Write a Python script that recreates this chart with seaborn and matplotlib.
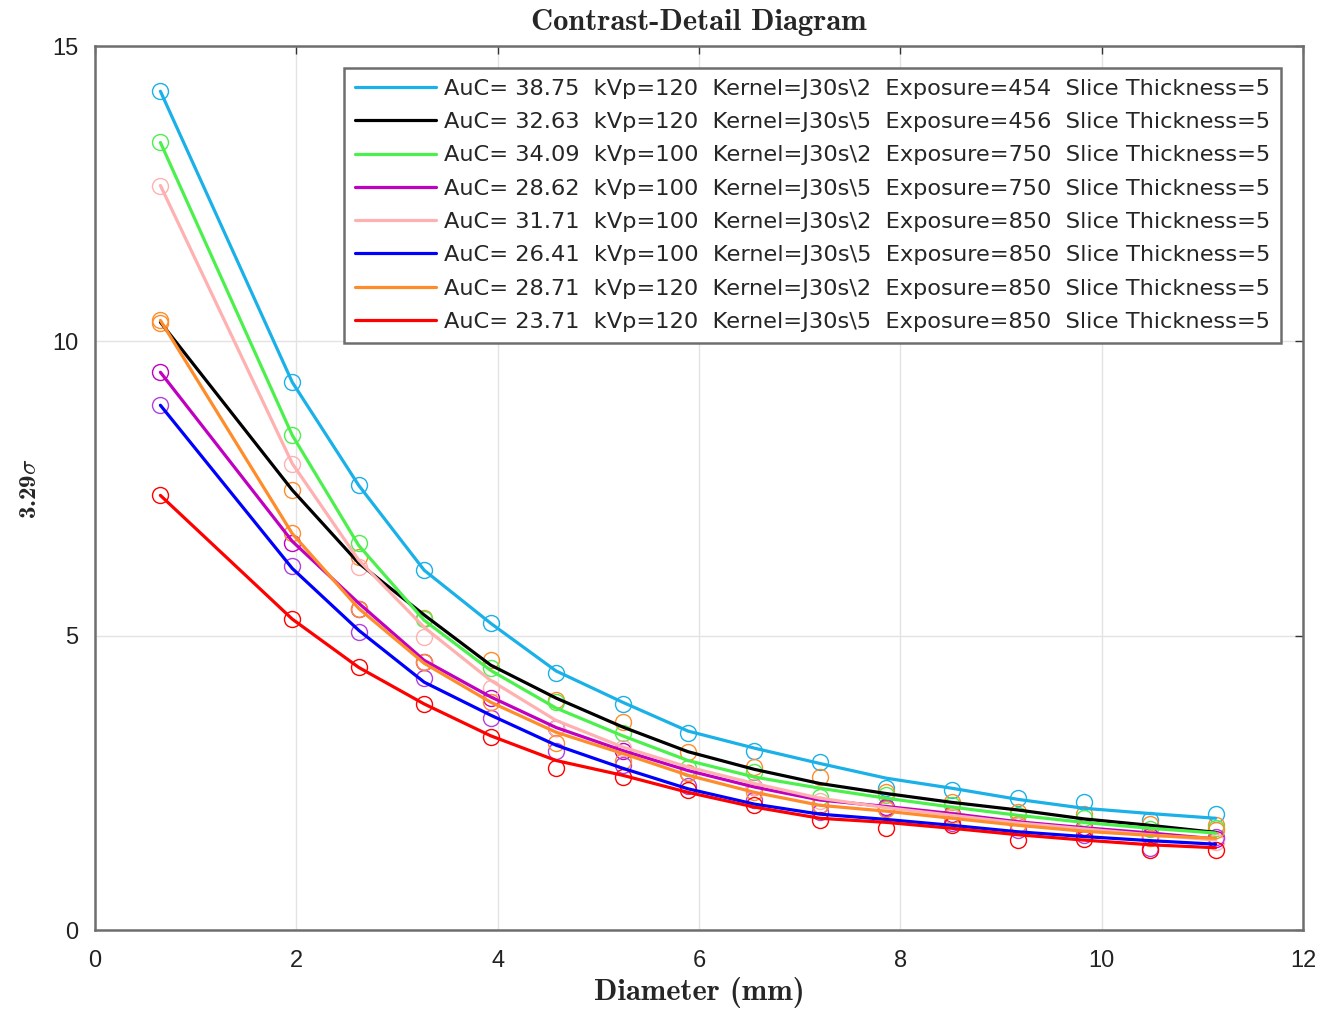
import numpy as np
import pandas as pd
import seaborn as sns
import matplotlib
matplotlib.use("Agg")
import matplotlib.pyplot as plt

# diameters (mm) of the contrast-detail inserts
diameter = [0.65, 1.96, 2.62, 3.27, 3.93, 4.58, 5.24, 5.89, 6.55, 7.20, 7.86, 8.51, 9.17, 9.82, 10.48, 11.13]

labels = [
    r"AuC= 38.75  kVp=120  Kernel=J30s\2  Exposure=454  Slice Thickness=5",
    r"AuC= 32.63  kVp=120  Kernel=J30s\5  Exposure=456  Slice Thickness=5",
    r"AuC= 34.09  kVp=100  Kernel=J30s\2  Exposure=750  Slice Thickness=5",
    r"AuC= 28.62  kVp=100  Kernel=J30s\5  Exposure=750  Slice Thickness=5",
    r"AuC= 31.71  kVp=100  Kernel=J30s\2  Exposure=850  Slice Thickness=5",
    r"AuC= 26.41  kVp=100  Kernel=J30s\5  Exposure=850  Slice Thickness=5",
    r"AuC= 28.71  kVp=120  Kernel=J30s\2  Exposure=850  Slice Thickness=5",
    r"AuC= 23.71  kVp=120  Kernel=J30s\5  Exposure=850  Slice Thickness=5",
]
line_colors = ["#1ab0e8", "#000000", "#4cf04c", "#c000c0", "#ffb0b0", "#0000ff", "#ff8c2a", "#ff0000"]
marker_colors = ["#1ab0e8", "#ff8c2a", "#4cf04c", "#c000c0", "#ffb0b0", "#b040e0", "#ff8c2a", "#ff0000"]

# smoothed curves (lines)
fit_cyan = [14.24, 9.30, 7.55, 6.11, 5.21, 4.40, 3.87, 3.38, 3.09, 2.83, 2.58, 2.41, 2.22, 2.07, 1.98, 1.90]
fit_black = [10.32, 7.47, 6.23, 5.35, 4.50, 3.94, 3.45, 3.03, 2.73, 2.49, 2.32, 2.17, 2.04, 1.89, 1.78, 1.66]
fit_green = [13.37, 8.40, 6.53, 5.26, 4.41, 3.77, 3.30, 2.88, 2.60, 2.41, 2.24, 2.09, 1.95, 1.83, 1.73, 1.65]
fit_magenta = [9.47, 6.60, 5.55, 4.58, 3.96, 3.44, 3.05, 2.71, 2.43, 2.21, 2.10, 1.98, 1.84, 1.74, 1.65, 1.55]
fit_pink = [12.64, 7.92, 6.28, 5.14, 4.24, 3.56, 3.11, 2.77, 2.49, 2.24, 2.08, 1.95, 1.82, 1.72, 1.62, 1.53]
fit_blue = [8.91, 6.14, 5.09, 4.21, 3.65, 3.14, 2.75, 2.40, 2.14, 1.97, 1.88, 1.78, 1.67, 1.59, 1.52, 1.46]
fit_orange = [10.35, 6.73, 5.46, 4.53, 3.87, 3.36, 3.00, 2.63, 2.34, 2.12, 2.02, 1.90, 1.78, 1.68, 1.61, 1.56]
fit_red = [7.38, 5.28, 4.46, 3.84, 3.30, 2.88, 2.63, 2.34, 2.09, 1.90, 1.83, 1.73, 1.62, 1.53, 1.45, 1.40]

# measured points (circles)
pts_cyan = [14.24, 9.30, 7.55, 6.11, 5.21, 4.36, 3.84, 3.34, 3.05, 2.85, 2.41, 2.38, 2.24, 2.17, 1.87, 1.98]
pts_black = [10.30, 7.47, 6.33, 5.30, 4.58, 3.90, 3.53, 3.02, 2.77, 2.60, 2.35, 2.17, 2.00, 1.98, 1.80, 1.78]
pts_green = [13.37, 8.40, 6.57, 5.29, 4.45, 3.87, 3.34, 2.75, 2.68, 2.26, 2.29, 2.12, 1.95, 1.90, 1.72, 1.73]
pts_magenta = [9.47, 6.58, 5.46, 4.55, 3.94, 3.44, 3.05, 2.66, 2.43, 2.12, 2.09, 1.98, 1.78, 1.76, 1.60, 1.55]
pts_pink = [12.64, 7.92, 6.16, 4.97, 4.11, 3.44, 3.09, 2.66, 2.43, 2.20, 2.05, 1.92, 1.78, 1.72, 1.56, 1.49]
pts_blue = [8.91, 6.19, 5.06, 4.28, 3.60, 3.05, 2.80, 2.45, 2.21, 2.00, 2.07, 1.82, 1.70, 1.62, 1.39, 1.58]
pts_orange = [10.35, 6.75, 5.46, 4.55, 3.87, 3.17, 2.88, 2.66, 2.35, 2.12, 2.05, 1.95, 1.80, 1.72, 1.56, 1.70]
pts_red = [7.38, 5.28, 4.46, 3.84, 3.28, 2.75, 2.60, 2.38, 2.12, 1.87, 1.73, 1.78, 1.53, 1.55, 1.36, 1.36]

fits = [fit_cyan, fit_black, fit_green, fit_magenta, fit_pink, fit_blue, fit_orange, fit_red]
pts = [pts_cyan, pts_black, pts_green, pts_magenta, pts_pink, pts_blue, pts_orange, pts_red]

sns.set_style("whitegrid")
plt.rcParams["font.family"] = ["Liberation Sans", "DejaVu Sans"]
plt.rcParams["mathtext.fontset"] = "cm"

fig = plt.figure(figsize=(13.19, 10.10), dpi=100)
ax = fig.add_axes([0.072, 0.079, 0.916, 0.875])

# circles first, lines on top
for p, mc in zip(pts, marker_colors):
    sns.lineplot(x=diameter, y=p, ax=ax, color=mc, linestyle="", marker="o",
                 markersize=11.5, markerfacecolor="none", markeredgecolor=mc,
                 markeredgewidth=1.0, legend=False)
for f, lc, lab in zip(fits, line_colors, labels):
    sns.lineplot(x=diameter, y=f, ax=ax, color=lc, linewidth=2.3, label=lab)

ax.set_xlim(0, 12)
ax.set_ylim(0, 15)
ax.set_xticks(np.arange(0, 13, 2))
ax.set_yticks([0, 5, 10, 15])
ax.grid(True, color="#e3e3e3", linewidth=1.0)
for s in ax.spines.values():
    s.set_color("#6e6e6e")
    s.set_linewidth(1.8)
ax.tick_params(direction="in", length=6, width=1, color="#333333", labelsize=17,
               top=True, right=True, labelcolor="#222222")
ax.tick_params(axis="x", pad=14)
ax.tick_params(axis="y", pad=12)

ax.set_title("Contrast-Detail Diagram", fontfamily="cmb10", fontsize=22, pad=12)
ax.set_xlabel("Diameter (mm)", fontfamily="cmb10", fontsize=22, labelpad=4)
ax.set_ylabel(r"3.29$\sigma$", fontfamily="cmb10", fontsize=18, labelpad=8)

leg = ax.legend(loc="upper right", bbox_to_anchor=(0.982, 0.976), borderaxespad=0,
                prop={"family": "DejaVu Sans", "size": 16.2},
                handlelength=3.6, handletextpad=0.35, labelspacing=0.59,
                borderpad=0.5, fancybox=False, framealpha=1)
leg.get_frame().set_edgecolor("#6e6e6e")
leg.get_frame().set_linewidth(1.8)

fig.savefig("out.png", dpi=100)
